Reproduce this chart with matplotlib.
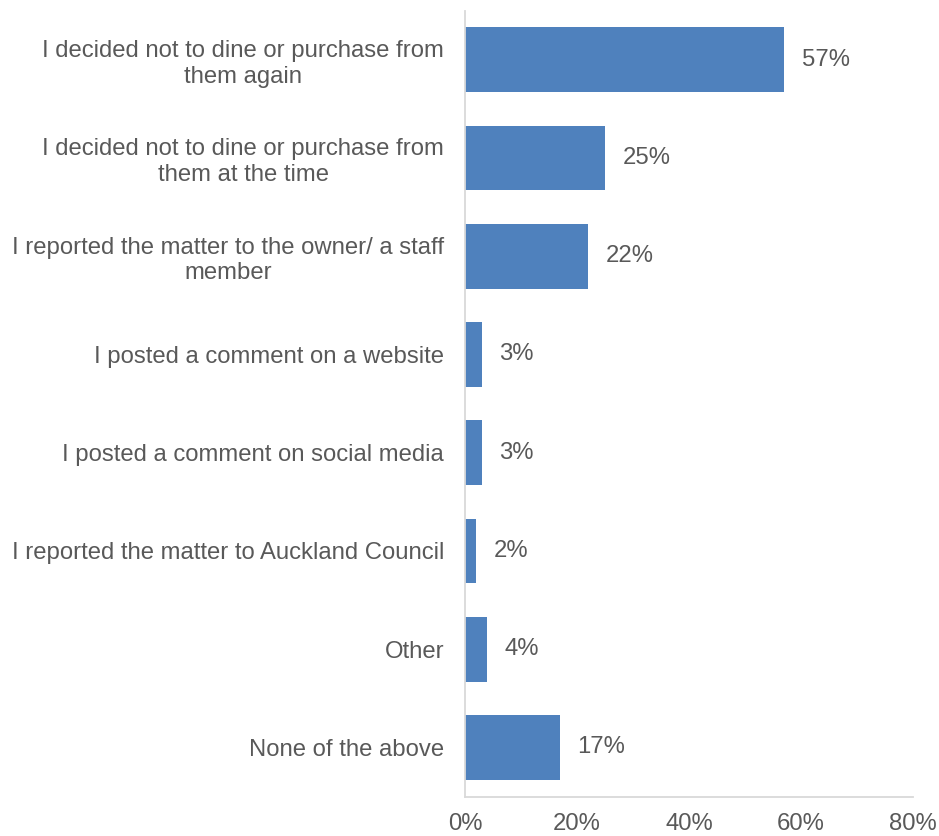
import matplotlib
matplotlib.use("Agg")
import matplotlib.pyplot as plt
from matplotlib.ticker import FixedLocator

categories = [
    "I decided not to dine or purchase from\nthem again",
    "I decided not to dine or purchase from\nthem at the time",
    "I reported the matter to the owner/ a staff\nmember",
    "I posted a comment on a website",
    "I posted a comment on social media",
    "I reported the matter to Auckland Council",
    "Other",
    "None of the above",
]
values = [57, 25, 22, 3, 3, 2, 4, 17]
xticks = [0, 20, 40, 60, 80]
xtick_labels = ["0%", "20%", "40%", "60%", "80%"]

bar_color = "#4F81BD"
text_color = "#595959"
axis_color = "#D9D9D9"
fs = 17.2

plt.rcParams["font.family"] = ["Liberation Sans", "DejaVu Sans"]

fig = plt.figure(figsize=(9.39, 8.36), dpi=100)
ax = fig.add_axes([0.4952, 0.0471, 0.4771, 0.9402])

n = len(categories)
ypos = list(range(n))
ax.barh(ypos, values, height=0.66, color=bar_color, zorder=2)

ax.set_ylim(n - 0.5, -0.5)
ax.set_xlim(0, 80)

ax.yaxis.set_major_locator(FixedLocator(ypos))
ax.set_yticklabels(categories, fontsize=fs, color=text_color)
for lbl in ax.get_yticklabels():
    lbl.set_multialignment("center")
    lbl.set_linespacing(1.22)
ax.xaxis.set_major_locator(FixedLocator(xticks))
ax.set_xticklabels(xtick_labels, fontsize=fs, color=text_color)

ax.tick_params(axis="y", length=0, pad=15)
ax.tick_params(axis="x", length=0, pad=12)

for s in ["top", "right"]:
    ax.spines[s].set_visible(False)
for s in ["left", "bottom"]:
    ax.spines[s].set_color(axis_color)
    ax.spines[s].set_linewidth(1.3)

for y, v in zip(ypos, values):
    ax.annotate(f"{v}%", xy=(v, y), xytext=(12.5, 0), textcoords="offset points",
                ha="left", va="center", fontsize=fs, color=text_color)

fig.savefig("out.png", dpi=100, facecolor="white")
